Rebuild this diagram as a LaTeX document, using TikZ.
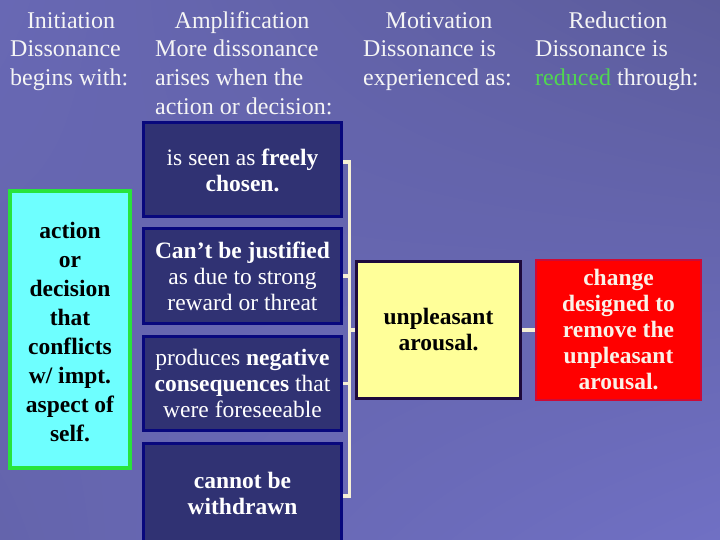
\documentclass[tikz,border=0pt]{standalone}
\usepackage{fontspec}
\setmainfont{Liberation Serif}
\usetikzlibrary{shadings}
\definecolor{bgUL}{RGB}{104,104,180}
\definecolor{bgUR}{RGB}{92,92,156}
\definecolor{bgLL}{RGB}{100,100,172}
\definecolor{bgLR}{RGB}{112,112,196}
\definecolor{headtext}{RGB}{245,245,245}
\definecolor{reducedgreen}{RGB}{80,215,80}
\definecolor{stagefill}{RGB}{48,50,115}
\definecolor{stageline}{RGB}{8,8,125}
\definecolor{bracketline}{RGB}{246,240,214}
\definecolor{arousalfill}{RGB}{255,255,153}
\definecolor{arousalline}{RGB}{30,10,60}
\definecolor{changefill}{RGB}{255,0,0}
\definecolor{changeline}{RGB}{205,10,55}
\definecolor{changetext}{RGB}{250,242,232}
\definecolor{actfill}{RGB}{110,255,255}
\definecolor{actline}{RGB}{40,228,60}
\begin{document}
\begin{tikzpicture}[x=1pt,y=-1pt,
  every node/.style={inner sep=0pt,align=center,font=\fontsize{23.5}{26}\selectfont},
  headtitle/.style={text=headtext,font=\fontsize{24}{29}\selectfont,anchor=base},
  headbody/.style={text=headtext,font=\fontsize{24}{29}\selectfont,align=left,anchor=north west},
  stage/.style={draw=stageline,fill=stagefill,line width=3pt,text=white,minimum width=198pt,minimum height=94pt},
  bracket/.style={draw=bracketline,line width=3.5pt}]
 \useasboundingbox (0,0) rectangle (720,540);
 \shade[upper left=bgUL,upper right=bgUR,lower left=bgLL,lower right=bgLR] (0,0) rectangle (720,540);
 \node[headtitle] (t1) at (71,28.5) {Initiation};
 \node[headbody] (h1) at (10,40) {Dissonance\\begins with:};
 \node[headtitle] (t2) at (242,28.5) {Amplification};
 \node[headbody] (h2) at (155,40) {More dissonance\\arises when the\\action or decision:};
 \node[headtitle] (t3) at (439,28.5) {Motivation};
 \node[headbody] (h3) at (363,40) {Dissonance is\\experienced as:};
 \node[headtitle] (t4) at (618,28.5) {Reduction};
 \node[headbody] (h4) at (535,40) {Dissonance is\\\textcolor{reducedgreen}{reduced} through:};
 \node[draw=actline,fill=actfill,line width=3.5pt,minimum width=120pt,minimum height=277pt,
   font=\bfseries\fontsize{23.5}{29}\selectfont] (act) at (70,329.5)
   {\rule{0pt}{22pt}action\\or\\decision\\that\\conflicts\\w/ impt.\\aspect of\\self.};
 \node[stage] (b1) at (242.5,170) {is seen as \textbf{freely}\\\textbf{chosen.}};
 \node[stage,minimum height=95pt] (b2) at (242.5,276) {\textbf{Can't be justified}\\as due to strong\\reward or threat};
 \node[stage] (b3) at (242.5,383.5) {produces \textbf{negative}\\\textbf{consequences} that\\were foreseeable};
 \node[stage,minimum height=100pt,font=\bfseries\fontsize{23.5}{26}\selectfont] (b4) at (242.5,493) {cannot be\\withdrawn};
 \node[draw=arousalline,fill=arousalfill,line width=3pt,minimum width=164pt,minimum height=137pt,
   font=\bfseries\fontsize{23.5}{26}\selectfont] (arousal) at (438.5,330) {unpleasant\\arousal.};
 \node[draw=changeline,fill=changefill,line width=2pt,text=changetext,minimum width=165pt,minimum height=140pt,
   font=\bfseries\fontsize{23.5}{26}\selectfont] (change) at (618.5,330)
   {change\\designed to\\remove the\\unpleasant\\arousal.};
 \coordinate (bartop) at (349.5,162);
 \coordinate (barbot) at (349.5,496);
 \draw[bracket] ([yshift=8pt]b1.east) -- (bartop) -- (barbot) -- ([yshift=-3pt]b4.east);
 \draw[bracket] (b2.east) -- (b2.east -| bartop);
 \draw[bracket] (b3.east) -- (b3.east -| bartop);
 \draw[bracket] (bartop |- arousal.west) -- (arousal.west);
 \draw[bracket] (arousal.east) -- (change.west);
\end{tikzpicture}
\end{document}
